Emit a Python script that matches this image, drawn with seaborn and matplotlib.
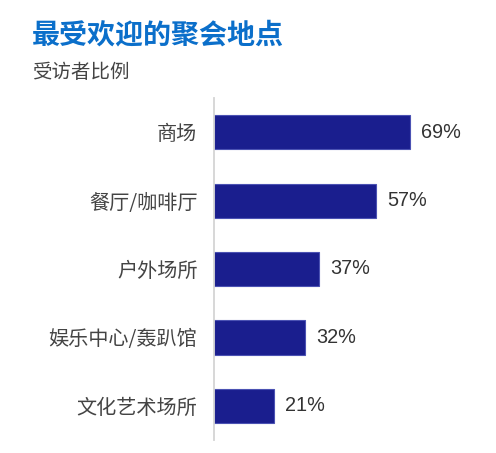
import matplotlib
matplotlib.use('Agg')
import matplotlib.pyplot as plt
import seaborn as sns
import pandas as pd

# data
venues = ["商场", "餐厅/咖啡厅", "户外场所", "娱乐中心/轰趴馆", "文化艺术场所"]
shares = [69, 57, 37, 32, 21]
value_labels = [f"{v}%" for v in shares]

TITLE = "最受欢迎的聚会地点"
SUBTITLE = "受访者比例"

BAR_COLOR = "#1a1e8e"
TITLE_COLOR = "#0b6fca"


def main():
    sns.set_theme(style="white")
    plt.rcParams['font.family'] = ['Noto Sans CJK SC', 'DejaVu Sans']

    df = pd.DataFrame({"venue": venues, "share": shares})

    W, H = 496, 453
    fig = plt.figure(figsize=(W / 100, H / 100), dpi=100)
    # axes spans x 214..481 px, y 98..440 px (from top)
    ax = fig.add_axes([214 / W, (H - 440) / H, (481 - 214) / W, (440 - 98) / H])

    sns.barplot(data=df, y="venue", x="share", orient="h", color=BAR_COLOR,
                saturation=1, width=0.5, edgecolor="#4b52b3", linewidth=0.8,
                ax=ax)

    ax.set_xlim(0, 94)
    ax.set_ylim(4.5, -0.5)
    ax.set_xlabel("")
    ax.set_ylabel("")
    ax.set_xticks([])
    ax.tick_params(axis="y", length=0, pad=12, labelsize=14.5, labelcolor="#444444")

    for side in ["top", "right", "bottom"]:
        ax.spines[side].set_visible(False)
    ax.spines["left"].set_color("#d4d4d4")
    ax.spines["left"].set_linewidth(1.3)

    for i, (v, lab) in enumerate(zip(shares, value_labels)):
        ax.annotate(lab, xy=(v, i), xytext=(8, 0), textcoords="offset points",
                    va="center", ha="left", fontsize=14.3, color="#333333",
                    family=["Liberation Sans", "DejaVu Sans"])

    fig.text(32 / W, 1 - 35 / H, TITLE, fontsize=20.2, fontweight="bold",
             color=TITLE_COLOR, va="center", ha="left")
    fig.text(32 / W, 1 - 73 / H, SUBTITLE, fontsize=14, color="#444444",
             va="center", ha="left")

    fig.savefig("out.png", dpi=100)
    plt.close(fig)


if __name__ == "__main__":
    main()
